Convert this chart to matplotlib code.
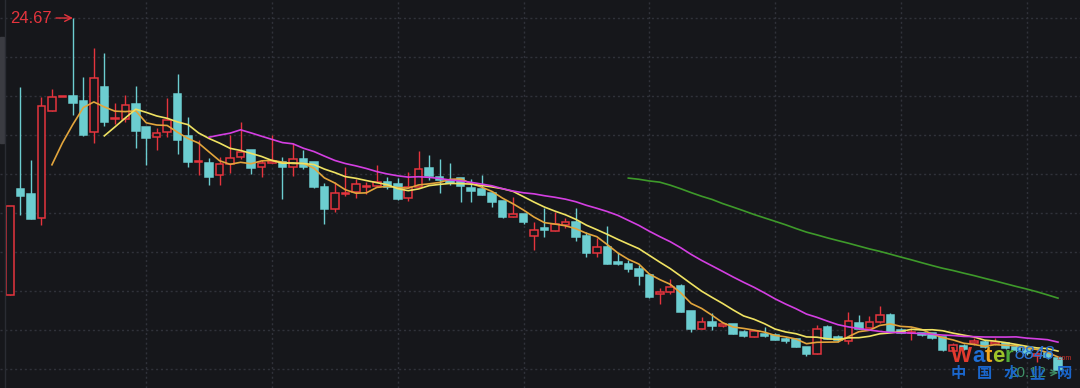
import numpy as np
import pandas as pd
import matplotlib
matplotlib.use("Agg")
from matplotlib import pyplot as plt
from matplotlib.patches import Rectangle
from matplotlib.lines import Line2D

# Daily candles (price units, 101 sessions)
opens = [21.12, 22.48, 22.41, 22.11, 23.48, 23.66, 23.67, 23.61, 23.21, 23.79,
         23.38, 23.38, 23.57, 23.27, 23.14, 23.21, 23.70, 23.16, 22.82, 22.81,
         22.66, 22.80, 22.89, 22.98, 22.76, 22.81, 22.82, 22.76, 22.86, 22.82,
         22.50, 22.22, 22.41, 22.44, 22.50, 22.52, 22.57, 22.54, 22.36, 22.50,
         22.75, 22.63, 22.59, 22.62, 22.49, 22.48, 22.43, 22.32, 22.12, 22.16,
         21.87, 21.98, 21.94, 22.02, 22.05, 21.87, 21.66, 21.73, 21.54, 21.52,
         21.45, 21.38, 21.13, 21.16, 21.23, 20.91, 20.68, 20.77, 20.72, 20.75,
         20.64, 20.58, 20.62, 20.61, 20.55, 20.55, 20.45, 20.36, 20.71, 20.58,
         20.53, 20.76, 20.70, 20.77, 20.86, 20.67, 20.63, 20.63, 20.63, 20.58,
         20.40, 20.46, 20.50, 20.52, 20.49, 20.50, 20.45, 20.43, 20.34, 20.37,
         20.31]
closes = [22.26, 22.39, 22.09, 23.54, 23.66, 23.66, 23.58, 23.17, 23.90, 23.34,
          23.39, 23.55, 23.22, 23.13, 23.20, 23.36, 23.11, 22.82, 22.84, 22.63,
          22.80, 22.88, 22.95, 22.75, 22.81, 22.84, 22.76, 22.86, 22.76, 22.50,
          22.22, 22.43, 22.43, 22.54, 22.52, 22.57, 22.50, 22.35, 22.50, 22.73,
          22.64, 22.59, 22.55, 22.52, 22.45, 22.40, 22.31, 22.12, 22.16, 22.05,
          21.95, 21.95, 22.03, 22.05, 21.86, 21.66, 21.73, 21.52, 21.52, 21.45,
          21.36, 21.09, 21.16, 21.22, 20.90, 20.68, 20.77, 20.72, 20.75, 20.62,
          20.59, 20.66, 20.59, 20.54, 20.53, 20.45, 20.36, 20.68, 20.55, 20.54,
          20.79, 20.68, 20.77, 20.86, 20.64, 20.63, 20.64, 20.61, 20.57, 20.41,
          20.48, 20.43, 20.53, 20.45, 20.52, 20.44, 20.41, 20.37, 20.36, 20.32,
          20.16]
highs = [22.26, 23.79, 22.85, 23.66, 23.76, 23.66, 24.67, 23.91, 24.29, 24.22,
         23.58, 23.68, 23.80, 23.27, 23.26, 23.64, 23.95, 23.40, 23.11, 22.88,
         22.89, 23.17, 23.34, 22.98, 22.85, 23.17, 22.89, 23.07, 22.98, 22.82,
         22.55, 22.57, 22.76, 22.61, 22.57, 22.79, 22.63, 22.62, 22.70, 22.96,
         22.91, 22.86, 22.81, 22.62, 22.61, 22.66, 22.43, 22.32, 22.38, 22.16,
         22.05, 22.23, 22.18, 22.11, 22.23, 21.93, 21.85, 22.00, 21.66, 21.57,
         21.50, 21.38, 21.21, 21.32, 21.26, 20.91, 20.84, 20.89, 20.75, 20.75,
         20.67, 20.66, 20.71, 20.63, 20.58, 20.57, 20.45, 20.73, 20.73, 20.61,
         20.90, 20.86, 20.85, 20.98, 20.89, 20.70, 20.70, 20.63, 20.63, 20.58,
         20.50, 20.49, 20.57, 20.54, 20.57, 20.52, 20.48, 20.45, 20.41, 20.40,
         20.32]
lows = [21.12, 22.14, 22.09, 22.02, 23.48, 23.66, 23.43, 23.16, 23.07, 23.29,
        23.31, 23.34, 23.00, 22.79, 22.98, 23.14, 22.93, 22.76, 22.66, 22.53,
        22.53, 22.68, 22.86, 22.67, 22.63, 22.81, 22.35, 22.64, 22.73, 22.49,
        22.03, 22.18, 22.39, 22.36, 22.41, 22.50, 22.48, 22.34, 22.32, 22.50,
        22.59, 22.43, 22.53, 22.31, 22.31, 22.40, 22.25, 22.11, 22.12, 22.03,
        21.70, 21.86, 21.94, 21.98, 21.81, 21.61, 21.61, 21.52, 21.50, 21.41,
        21.25, 21.08, 21.00, 21.13, 20.90, 20.64, 20.68, 20.67, 20.71, 20.62,
        20.58, 20.58, 20.58, 20.54, 20.50, 20.45, 20.34, 20.36, 20.55, 20.52,
        20.49, 20.68, 20.70, 20.76, 20.64, 20.63, 20.54, 20.59, 20.55, 20.40,
        20.40, 20.41, 20.48, 20.44, 20.48, 20.43, 20.39, 20.35, 20.26, 20.30,
        20.12]

ma_windows = [5, 10, 20, 60]
max_label = "24.67"
min_label = "20.12"

bg = "#16171b"
up_col = "#e5343d"
down_col = "#6ccdd0"
ma_cols = ["#e2a53c", "#efe262", "#d43fe2", "#3e9a2a"]
grid_col = "#30323a"

o = np.array(opens)
c = np.array(closes)
h = np.array(highs)
l = np.array(lows)
idx = np.arange(len(o))
up = c >= o

fig = plt.figure(figsize=(10.8, 3.88), dpi=100, facecolor=bg)
ax = fig.add_axes([0, 0, 1, 1], facecolor=bg)
ax.set_xlim(-0.954, 102.1)
ax.set_ylim(19.926, 24.901)

# dotted grid
for yv in 24.67 - 0.5 * np.arange(10):
    ax.axhline(yv, color=grid_col, lw=1, ls=(0, (1.5, 2)), zorder=0)
for xv in range(13, 102, 12):
    ax.axvline(xv, color=grid_col, lw=1, ls=(0, (1.5, 2)), zorder=0)

cols = np.where(up, up_col, down_col)
ax.vlines(idx, l, h, colors=cols, lw=1, zorder=2)
body_h = np.maximum(np.abs(c - o), 0.004)
body_b = np.minimum(o, c)
ax.bar(idx, body_h, bottom=body_b, width=0.72,
       color=np.where(up, bg, down_col), edgecolor=cols, linewidth=1.1, zorder=3)

# moving averages
s = pd.Series(c)
for w, col in zip(ma_windows, ma_cols):
    ax.plot(idx, s.rolling(w).mean(), color=col, lw=1.2, zorder=4)

# max / min markers
imax = int(np.argmax(h))
ax.annotate(max_label, xy=(imax, h[imax]), xytext=(-21, 0), textcoords="offset pixels",
            ha="right", va="center", color=up_col, fontsize=12, family="Liberation Sans",
            arrowprops=dict(arrowstyle="->", color=up_col, lw=1, shrinkA=1, shrinkB=0,
                            mutation_scale=12), zorder=6)
imin = int(np.argmin(l))
ax.annotate(min_label, xy=(imin, l[imin]), xytext=(-12, 0), textcoords="offset pixels",
            ha="right", va="center", color="#3f8f66", fontsize=11, family="Liberation Sans",
            arrowprops=dict(arrowstyle="->", color="#3f8f66", lw=1, shrinkA=1, shrinkB=0,
                            mutation_scale=10), zorder=6)

for sp in ax.spines.values():
    sp.set_visible(False)
ax.set_xticks([])
ax.set_yticks([])

# left edge bits
fig.add_artist(Line2D([4.5 / 1080, 4.5 / 1080], [0, 1], color="#2a2c33", lw=1))
fig.add_artist(Rectangle((0, 1 - 143 / 388), 4 / 1080, 106 / 388, color="#3b3c42"))

# watermark
def px(x, y):
    return x / 1080, 1 - y / 388

for ch, x, col in zip("Water", [951, 972, 984.5, 992, 1004.5],
                      ["#e23a2e", "#1f6fd6", "#f2a51d", "#9fc42a", "#4fa83a"]):
    fig.text(*px(x, 362), ch, color=col, fontsize=16, fontweight="bold",
             family="Liberation Sans", va="baseline", ha="left")
fig.text(*px(1015, 359), "8848", color="#2a74d6", fontsize=13, style="italic",
         family="Liberation Sans", va="baseline", ha="left")
fig.text(*px(1056, 360), ".com", color="#d0302a", fontsize=5,
         family="Liberation Sans", va="baseline", ha="left")
for ch, x in zip("中国水业网", [951, 977, 1004, 1029, 1057]):
    fig.text(*px(x, 378), ch, color="#1a66cc", fontsize=11, fontweight="bold",
             family=["Noto Sans CJK SC", "DejaVu Sans"], va="baseline", ha="left")

fig.savefig("out.png", dpi=100, facecolor=bg)
